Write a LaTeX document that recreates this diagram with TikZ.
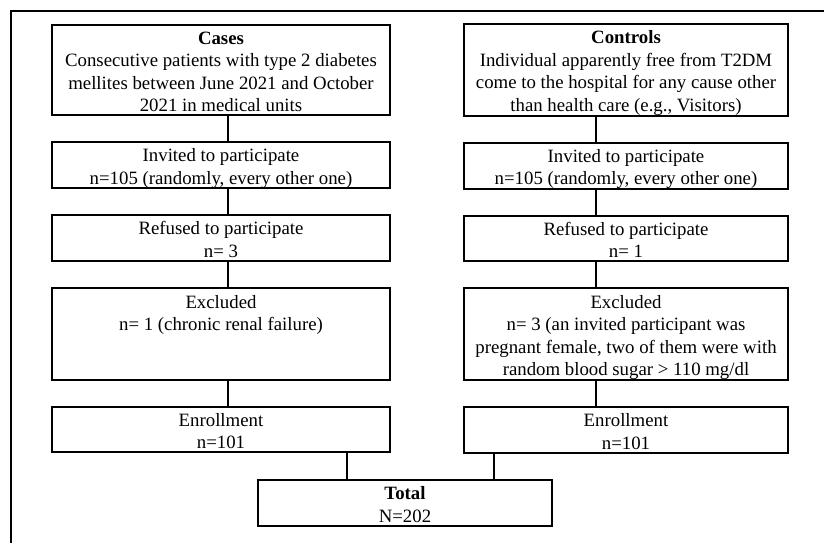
\documentclass[tikz,border=0pt]{standalone}
\usepackage{fontspec}
\setmainfont{Liberation Serif}
\usetikzlibrary{positioning}

% struts for the first and the last line of a box
\newcommand{\upstrut}{\rule{0pt}{19.5pt}}
\newcommand{\downstrut}{\rule[-3.5pt]{0pt}{3.5pt}}

\begin{document}
\begin{tikzpicture}[
    x=1pt, y=-1pt,
    node distance=25pt,
    box/.style={draw, line width=2pt, minimum height=45pt, align=center,
                inner xsep=4pt, inner ysep=0pt,
                font=\fontsize{18.8pt}{22.5pt}\selectfont},
    lbox/.style={box, minimum width=338pt},
    rbox/.style={box, minimum width=324pt},
    link/.style={line width=2pt},
  ]
  \useasboundingbox (0,0) rectangle (824,543);
  % open frame
  \draw[line width=2pt] (824,11) -- (11,11) -- (11,543);

  % Cases column
  \node[lbox, minimum height=90pt] (lcase) at (221,70)
    {\upstrut\textbf{Cases}\\Consecutive patients with type 2 diabetes\\mellites between June 2021 and October\\2021 in medical units\downstrut};
  \node[lbox, below=of lcase] (linv) {\upstrut Invited to participate\\n=105 (randomly, every other one)\downstrut};
  \node[lbox, below=of linv]  (lref) {\upstrut Refused to participate\\n= 3\downstrut};
  \node[lbox, below=of lref, minimum height=92pt] (lexc)
    {\upstrut Excluded\\n= 1 (chronic renal failure)\\\mbox{}\\\mbox{}\downstrut};
  \node[lbox, below=of lexc]  (lenr) {\upstrut Enrollment\\n=101\downstrut};

  % Controls column
  \node[rbox, minimum height=90pt] (rcase) at (626,70)
    {\upstrut\textbf{Controls}\\Individual apparently free from T2DM\\come to the hospital for any cause other\\than health care (e.g., Visitors)\downstrut};
  \node[rbox, below=of rcase] (rinv) {\upstrut Invited to participate\\n=105 (randomly, every other one)\downstrut};
  \node[rbox, below=of rinv]  (rref) {\upstrut Refused to participate\\n= 1\downstrut};
  \node[rbox, below=of rref, minimum height=92pt] (rexc)
    {\upstrut Excluded\\n= 3 (an invited participant was\\pregnant female, two of them were with\\random blood sugar > 110 mg/dl\downstrut};
  \node[rbox, below=of rexc]  (renr) {\upstrut Enrollment\\n=101\downstrut};

  % Total
  \node[box, minimum width=294pt, minimum height=46pt] (total) at (405,503)
    {\upstrut\textbf{Total}\\N=202\downstrut};
  \coordinate (tl) at ([xshift=-58pt]total.north);
  \coordinate (tr) at ([xshift=89pt]total.north);

  \draw[link] ([xshift=7pt]lcase.south) -- ([xshift=7pt]linv.north);
  \draw[link] ([xshift=7pt]linv.south)  -- ([xshift=7pt]lref.north);
  \draw[link] ([xshift=7pt]lref.south)  -- ([xshift=7pt]lexc.north);
  \draw[link] ([xshift=7pt]lexc.south)  -- ([xshift=7pt]lenr.north);
  \draw[link] ([xshift=-30pt]rcase.south) -- ([xshift=-30pt]rinv.north);
  \draw[link] ([xshift=-30pt]rinv.south)  -- ([xshift=-30pt]rref.north);
  \draw[link] ([xshift=-30pt]rref.south)  -- ([xshift=-30pt]rexc.north);
  \draw[link] ([xshift=-30pt]rexc.south)  -- ([xshift=-30pt]renr.north);
  \draw[link] (tl |- lenr.south) -- (tl);
  \draw[link] (tr |- renr.south) -- (tr);
\end{tikzpicture}
\end{document}
